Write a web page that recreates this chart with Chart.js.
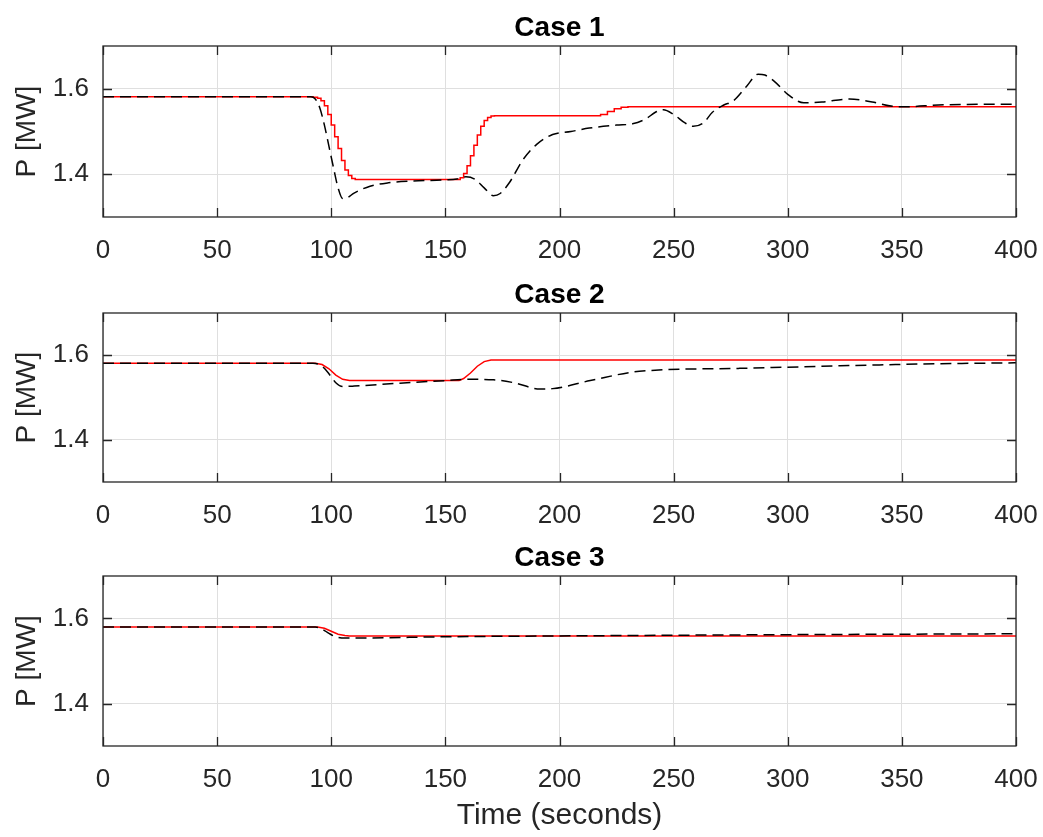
<!DOCTYPE html>
<html>
<head>
<meta charset="utf-8">
<script src="https://cdn.jsdelivr.net/npm/chart.js@4.4.1/dist/chart.umd.min.js"></script>
<style>
  html, body { margin: 0; padding: 0; background: #fff; }
  body { width: 1043px; height: 837px; position: relative; overflow: hidden; }
  .panel { position: absolute; left: 0; width: 1043px; }
</style>
</head>
<body>
<div class="panel" style="top:0px;height:270px"><canvas id="case1" width="1043" height="270"></canvas></div>
<div class="panel" style="top:267px;height:268px"><canvas id="case2" width="1043" height="268"></canvas></div>
<div class="panel" style="top:530px;height:307px"><canvas id="case3" width="1043" height="307"></canvas></div>
<script>
// axes
const timeTicks = [0, 50, 100, 150, 200, 250, 300, 350, 400];
const powerTicks = [1.4, 1.6];
const titles = ['Case 1', 'Case 2', 'Case 3'];

// Case 1 - red reference (stair) and black dashed response
const case1RefTime = [0, 92, 94, 95.5, 97, 98.5, 100, 101.5, 103, 104.5, 106, 107.5, 109, 110.5, 155, 156.5, 158, 159.5, 161, 162.5, 164, 165.5, 167, 168.5, 170, 171.5, 215, 218, 221, 224, 227, 230, 400];
const case1RefP    = [1.581, 1.580, 1.578, 1.572, 1.560, 1.540, 1.515, 1.488, 1.460, 1.432, 1.410, 1.397, 1.390, 1.388, 1.388, 1.392, 1.402, 1.420, 1.443, 1.468, 1.492, 1.512, 1.526, 1.533, 1.536, 1.537, 1.537, 1.540, 1.547, 1.553, 1.557, 1.558, 1.558];
const case1OutTime = [0, 91, 93, 95, 97, 99, 101, 103, 105, 107, 110, 117, 125, 135, 150, 155, 159, 163, 167, 171, 174, 178, 184, 190, 197, 205, 213, 225, 232, 238, 242, 245.5, 250, 255, 258.6, 263, 267, 272, 276, 282, 287, 290, 294, 300, 307, 315, 327, 337, 346, 352, 366, 400];
const case1OutP    = [1.581, 1.581, 1.576, 1.555, 1.515, 1.465, 1.415, 1.368, 1.343, 1.345, 1.356, 1.372, 1.380, 1.384, 1.387, 1.389, 1.394, 1.388, 1.368, 1.350, 1.355, 1.380, 1.434, 1.470, 1.493, 1.500, 1.508, 1.515, 1.518, 1.530, 1.545, 1.551, 1.540, 1.520, 1.512, 1.520, 1.545, 1.562, 1.571, 1.606, 1.634, 1.632, 1.618, 1.587, 1.567, 1.569, 1.576, 1.569, 1.559, 1.558, 1.562, 1.564];

// Case 2
const case2RefTime = [0, 93, 96, 99, 102, 105, 108, 156, 158, 161, 164, 167, 170, 400];
const case2RefP    = [1.581, 1.581, 1.578, 1.568, 1.553, 1.543, 1.540, 1.540, 1.545, 1.558, 1.574, 1.585, 1.589, 1.589];
const case2OutTime = [0, 92, 96, 99.6, 102, 105, 110, 130, 150, 160, 171, 180, 191.5, 197, 213.5, 235, 279, 323, 367, 400];
const case2OutP    = [1.581, 1.581, 1.574, 1.552, 1.535, 1.526, 1.527, 1.534, 1.540, 1.543, 1.542, 1.535, 1.520, 1.521, 1.540, 1.562, 1.569, 1.575, 1.580, 1.582];

// Case 3
const case3RefTime = [0, 94, 97, 100, 103, 106, 108, 400];
const case3RefP    = [1.580, 1.580, 1.577, 1.570, 1.563, 1.560, 1.559, 1.559];
const case3OutTime = [0, 93, 96, 99, 102, 106, 110, 150, 200, 300, 400];
const case3OutP    = [1.580, 1.580, 1.575, 1.565, 1.557, 1.554, 1.554, 1.557, 1.559, 1.562, 1.564];

const FONT = "'Liberation Sans', Arial, Helvetica, sans-serif";
const INK = '#262626';

function pts(t, p) { return t.map((v, i) => ({ x: v, y: p[i] })); }

// MATLAB-style box with inward ticks on all four sides
const axisBox = {
    id: 'axisBox',
    afterDraw(chart) {
        const { ctx, chartArea: a, scales } = chart;
        ctx.save();
        ctx.strokeStyle = INK;
        ctx.lineWidth = 1.3;
        ctx.strokeRect(a.left, a.top, a.right - a.left, a.bottom - a.top);
        ctx.beginPath();
        scales.x.ticks.forEach(t => {
            const px = Math.round(scales.x.getPixelForValue(t.value)) + 0.5;
            ctx.moveTo(px, a.bottom); ctx.lineTo(px, a.bottom - 9);
            ctx.moveTo(px, a.top); ctx.lineTo(px, a.top + 9);
        });
        scales.y.ticks.forEach(t => {
            const py = Math.round(scales.y.getPixelForValue(t.value)) + 0.5;
            ctx.moveTo(a.left, py); ctx.lineTo(a.left + 9, py);
            ctx.moveTo(a.right, py); ctx.lineTo(a.right - 9, py);
        });
        ctx.stroke();
        ctx.restore();
    }
};

function panelConfig(title, refT, refP, outT, outP, stairs, showXTitle) {
    return {
        type: 'line',
        data: {
            datasets: [{
                data: pts(outT, outP),
                borderColor: '#000000',
                borderWidth: 1.5,
                borderDash: [11, 6],
                pointRadius: 0,
                cubicInterpolationMode: 'monotone',
                fill: false
            }, {
                data: pts(refT, refP),
                borderColor: '#ff0000',
                borderWidth: 1.5,
                pointRadius: 0,
                stepped: stairs,
                fill: false
            }]
        },
        options: {
            responsive: false,
            animation: false,
            events: [],
            layout: { padding: { left: 0, right: 27, top: 0, bottom: 0 } },
            plugins: {
                legend: { display: false },
                tooltip: { enabled: false },
                title: {
                    display: true,
                    fullSize: false,
                    text: title,
                    color: '#000',
                    font: { family: FONT, size: 28, weight: 'bold' },
                    padding: { top: 11, bottom: 1.4 }
                }
            },
            scales: {
                x: {
                    type: 'linear',
                    min: 0, max: 400,
                    afterFit: s => {
                        s.height = showXTitle ? 91 : 53;
                        s.paddingLeft = 0;
                        s.paddingRight = 0;
                    },
                    afterBuildTicks: s => { s.ticks = timeTicks.map(v => ({ value: v })); },
                    grid: { color: '#dfdfdf', lineWidth: 1, drawTicks: false },
                    border: { display: false },
                    ticks: { color: INK, font: { family: FONT, size: 26 }, padding: 18, maxRotation: 0 },
                    title: {
                        display: showXTitle,
                        text: 'Time (seconds)',
                        color: INK,
                        font: { family: FONT, size: 30 },
                        padding: { top: 0, bottom: 3 }
                    }
                },
                y: {
                    min: 1.3, max: 1.7,
                    afterFit: s => { s.width = 103; },
                    afterBuildTicks: s => { s.ticks = powerTicks.map(v => ({ value: v })); },
                    grid: { color: '#dfdfdf', lineWidth: 1, drawTicks: false },
                    border: { display: false },
                    ticks: { color: INK, font: { family: FONT, size: 26 }, padding: 14, callback: v => v.toFixed(1) },
                    title: {
                        display: true,
                        text: 'P [MW]',
                        color: INK,
                        font: { family: FONT, size: 28 },
                        padding: { top: 10, bottom: 0 }
                    }
                }
            }
        },
        plugins: [axisBox]
    };
}

new Chart(document.getElementById('case1'), panelConfig(titles[0], case1RefTime, case1RefP, case1OutTime, case1OutP, true, false));
new Chart(document.getElementById('case2'), panelConfig(titles[1], case2RefTime, case2RefP, case2OutTime, case2OutP, false, false));
new Chart(document.getElementById('case3'), panelConfig(titles[2], case3RefTime, case3RefP, case3OutTime, case3OutP, false, true));
</script>
</body>
</html>
